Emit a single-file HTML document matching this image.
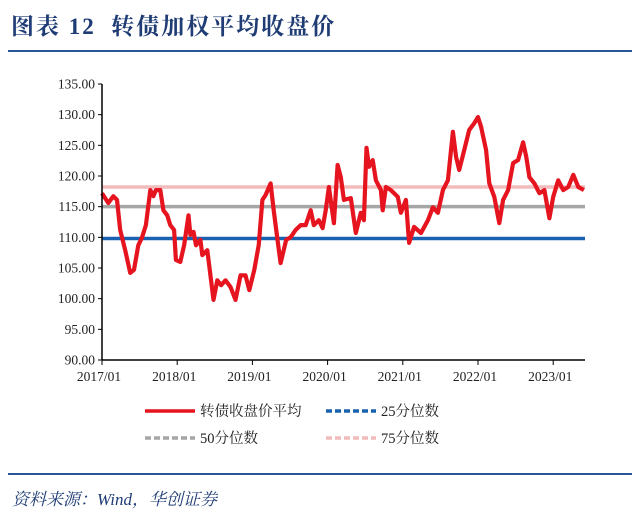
<!DOCTYPE html>
<html><head><meta charset="utf-8">
<style>
body{margin:0;background:#fff;width:640px;height:521px;overflow:hidden;font-family:"Liberation Serif","Noto Serif CJK SC",serif;}
.title{position:absolute;left:11px;top:8px;font-size:23px;font-weight:bold;color:#1f3c74;font-family:"Liberation Serif","Noto Serif CJK SC",serif;letter-spacing:2px;}
.rule{position:absolute;left:8px;width:624px;height:2px;background:#2a5596;}
.src{position:absolute;left:12px;top:485px;font-size:17px;font-style:italic;color:#1f3c74;}
</style></head><body>
<div class="title">图表 12&nbsp; 转债加权平均收盘价</div>
<div class="rule" style="top:50px"></div>
<svg id="chart" width="640" height="521" style="position:absolute;left:0;top:0"></svg>
<div class="rule" style="top:473px"></div>
<div class="src">资料来源：Wind，华创证券</div>
<script>
const months=[0,1,1.8,2.4,2.9,3.7,4.5,5.1,5.8,6.4,7.0,7.7,8.2,8.6,9.3,9.8,10.4,10.9,11.5,11.8,12.5,13.1,13.8,14.1,14.6,15.0,15.7,16.0,16.8,17.8,18.4,19.0,19.7,20.5,21.3,22.1,22.9,23.5,24.3,25.0,25.6,26.1,26.9,27.4,28.0,28.5,29.4,30.1,30.9,31.7,32.5,33.3,33.8,34.6,35.2,35.7,36.2,37.0,37.6,38.1,38.6,39.7,40.5,41.3,41.8,42.2,42.6,43.2,43.7,44.5,44.8,45.3,46.1,47.2,47.7,48.5,49.0,49.8,50.9,52.0,52.8,53.6,54.4,55.2,56.0,56.5,57.0,57.8,58.6,59.4,60.0,60.5,61.3,61.8,62.6,63.4,64.0,64.8,65.6,66.4,67.2,67.7,68.2,69.0,69.8,70.6,71.4,72.0,72.8,73.6,74.4,75.2,76.0,76.9];
const avgPrice=[117.2,115.6,116.7,116.1,111.2,107.9,104.2,104.7,108.7,110.0,112.0,117.7,116.7,117.7,117.7,114.4,113.6,112.0,111.2,106.3,106.0,108.7,113.6,110.4,110.9,108.7,109.6,107.1,107.9,99.8,103.0,102.2,103.0,101.9,99.8,103.8,103.8,101.4,104.7,108.7,116.1,116.9,118.8,114.4,109.6,105.8,109.6,110.0,111.2,112.0,112.0,114.4,112.0,112.8,111.5,114.4,118.2,112.3,121.8,119.8,116.1,116.4,110.7,114.0,112.8,124.6,121.5,122.6,119.3,117.7,114.4,118.2,117.7,116.6,114.0,116.1,109.1,111.7,110.7,112.8,114.9,114.0,117.7,119.3,127.2,123.1,121.0,124.2,127.5,128.6,129.6,128.0,124.2,118.8,116.6,112.3,116.1,117.7,122.1,122.6,125.5,123.1,119.8,118.8,117.2,117.7,113.1,116.6,119.3,117.7,118.2,120.2,118.2,117.7];
const p25=109.8, p50=115.0, p75=118.2;
const yTicks=[90,95,100,105,110,115,120,125,130,135];
const xTickMonths=[0,12,24,36,48,60,72];
const xTickLabels=["2017/01","2018/01","2019/01","2020/01","2021/01","2022/01","2023/01"];
const NS="http://www.w3.org/2000/svg";
const svg=document.getElementById('chart');
const X0=102,X1=585,Y0=360,Y1=84;
const xs=m=>X0+m*75.2/12;
const ys=v=>Y0-(v-90)*(Y0-Y1)/45;
function mk(t,a){const e=document.createElementNS(NS,t);for(const k in a)e.setAttribute(k,a[k]);svg.appendChild(e);return e;}
const pl=[[p75,'#f2bcbc','line-p75'],[p50,'#a6a6a6','line-p50'],[p25,'#1a62b0','line-p25']];
pl.forEach(p=>{const l=mk('line',{x1:X0,x2:X1,y1:ys(p[0]),y2:ys(p[0]),stroke:p[1],'stroke-width':3.5});

});
let d='';months.forEach((m,i)=>{d+=(i?'L':'M')+xs(m).toFixed(1)+','+ys(avgPrice[i]).toFixed(1);});
const path=mk('path',{d:d,fill:'none',stroke:'#e5141f','stroke-width':4.2,'stroke-linejoin':'round'});


const ya=mk('line',{x1:X0,x2:X0,y1:Y1,y2:Y0,stroke:'#000','stroke-width':1.5});


const xa=mk('line',{x1:X0,x2:X1,y1:Y0,y2:Y0,stroke:'#000','stroke-width':1.5});


yTicks.forEach(v=>{mk('line',{x1:X0-4,x2:X0,y1:ys(v),y2:ys(v),stroke:'#000','stroke-width':1});
const t=mk('text',{x:X0-7,y:ys(v)+4.5,'text-anchor':'end','font-size':13.5,fill:'#222'});t.textContent=v.toFixed(2);

});
xTickMonths.forEach((m,i)=>{mk('line',{x1:xs(m),x2:xs(m),y1:Y0,y2:Y0+5,stroke:'#000','stroke-width':1});
const t=mk('text',{x:xs(m)-3,y:Y0+21,'text-anchor':'middle','font-size':13.5,fill:'#222'});t.textContent=xTickLabels[i];

});
const leg=[[145,411,'#e5141f','','转债收盘价平均','legend-avg'],[326,411,'#1a62b0','6,3','25分位数','legend-p25'],[145,438,'#a6a6a6','6,3','50分位数','legend-p50'],[326,438,'#f2bcbc','6,3','75分位数','legend-p75']];
leg.forEach(l=>{const g=mk('g',{});


const ln=document.createElementNS(NS,'line');[['x1',l[0]],['x2',l[0]+50],['y1',l[1]],['y2',l[1]],['stroke',l[2]],['stroke-width',3.5]].forEach(a=>ln.setAttribute(a[0],a[1]));if(l[3])ln.setAttribute('stroke-dasharray',l[3]);g.appendChild(ln);
const t=document.createElementNS(NS,'text');t.setAttribute('x',l[0]+55);t.setAttribute('y',l[1]+5);t.setAttribute('font-size',14.5);t.setAttribute('fill','#222');t.textContent=l[4];g.appendChild(t);});
</script>
</body></html>
